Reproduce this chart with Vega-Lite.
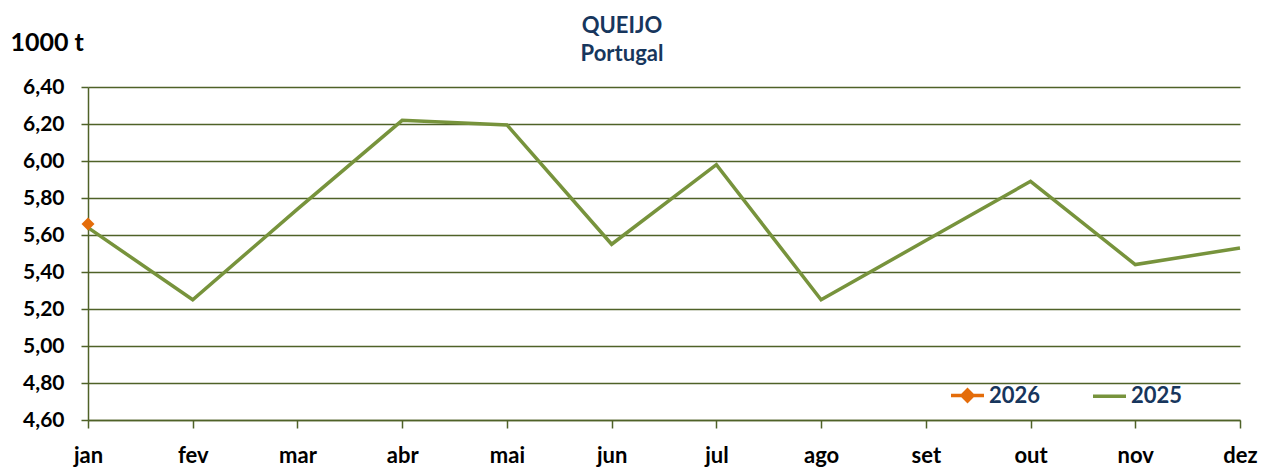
{
  "$schema": "https://vega.github.io/schema/vega-lite/v6.json",
  "width": 1152,
  "height": 333,
  "autosize": {"type": "none"},
  "padding": {"left": 88, "top": 87, "right": 29, "bottom": 48},
  "background": "white",
  "config": {"view": {"stroke": null}},
  "title": {
    "text": ["QUEIJO", "Portugal"],
    "font": "Lato",
    "fontSize": 22,
    "fontWeight": "bold",
    "color": "#17365D",
    "lineHeight": 28,
    "anchor": "middle",
    "baseline": "bottom",
    "dx": -42,
    "offset": -58
  },
  "data": {
    "values": [
      {"month": "jan", "series": "2025", "value": 5.64},
      {"month": "fev", "series": "2025", "value": 5.25},
      {"month": "mar", "series": "2025", "value": 5.74},
      {"month": "abr", "series": "2025", "value": 6.22},
      {"month": "mai", "series": "2025", "value": 6.195},
      {"month": "jun", "series": "2025", "value": 5.55},
      {"month": "jul", "series": "2025", "value": 5.98},
      {"month": "ago", "series": "2025", "value": 5.25},
      {"month": "set", "series": "2025", "value": 5.57},
      {"month": "out", "series": "2025", "value": 5.89},
      {"month": "nov", "series": "2025", "value": 5.44},
      {"month": "dez", "series": "2025", "value": 5.53},
      {"month": "jan", "series": "2026", "value": 5.66}
    ]
  },
  "encoding": {
    "x": {
      "field": "month",
      "type": "ordinal",
      "sort": ["jan", "fev", "mar", "abr", "mai", "jun", "jul", "ago", "set", "out", "nov", "dez"],
      "scale": {"type": "point", "padding": 0},
      "axis": {
        "title": null,
        "labelAngle": 0,
        "labelFont": "Lato",
        "labelFontSize": 22,
        "labelFontWeight": "bold",
        "labelColor": "#000000",
        "labelPadding": 17,
        "tickSize": 8,
        "tickColor": "#4F6228",
        "tickWidth": 1.5,
        "domain": true,
        "domainColor": "#4F6228",
        "domainWidth": 1.5,
        "grid": false
      }
    },
    "y": {
      "field": "value",
      "type": "quantitative",
      "scale": {"domain": [4.6, 6.4], "nice": false, "zero": false},
      "axis": {
        "values": [4.6, 4.8, 5.0, 5.2, 5.4, 5.6, 5.8, 6.0, 6.2, 6.4],
        "labelExpr": "replace(format(datum.value, '.2f'), '.', ',')",
        "labelFont": "Lato",
        "labelFontSize": 21,
        "labelFontWeight": "bold",
        "labelColor": "#000000",
        "labelPadding": 17,
        "tickSize": 7,
        "tickColor": "#4F6228",
        "tickWidth": 1.5,
        "domainColor": "#4F6228",
        "domainWidth": 1.5,
        "grid": true,
        "gridColor": "#4F6228",
        "gridWidth": 1.5,
        "title": "1000 t",
        "titleFont": "Lato",
        "titleFontSize": 25,
        "titleFontWeight": "bold",
        "titleColor": "#000000",
        "titleAngle": 0,
        "titleAlign": "left",
        "titleBaseline": "alphabetic",
        "titleX": -78,
        "titleY": -37
      }
    },
    "color": {
      "field": "series",
      "type": "nominal",
      "scale": {"domain": ["2026", "2025"], "range": ["#E46C0A", "#77933C"]},
      "legend": {
        "title": null,
        "orient": "none",
        "direction": "horizontal",
        "legendX": 861,
        "legendY": 290,
        "padding": 0,
        "labelFont": "Lato",
        "labelFontSize": 22,
        "labelFontWeight": "bold",
        "labelColor": "#17365D",
        "labelOffset": 3,
        "columnPadding": 45,
        "symbolSize": 1089,
        "symbolStrokeWidth": 3,
        "encode": {
          "symbols": {
            "update": {
              "shape": {"signal": "datum.value == '2026' ? 'M-1,0H1M0,-0.33L0.33,0L0,0.33L-0.33,0Z' : 'M-1,0H1'"},
              "strokeWidth": {"value": 3.5}
            }
          }
        }
      }
    }
  },
  "layer": [
    {
      "mark": {"type": "line", "strokeWidth": 3.5}
    },
    {
      "transform": [{"filter": "datum.series == '2026'"}],
      "mark": {"type": "point", "shape": "diamond", "filled": true, "size": 169, "opacity": 1}
    }
  ]
}
